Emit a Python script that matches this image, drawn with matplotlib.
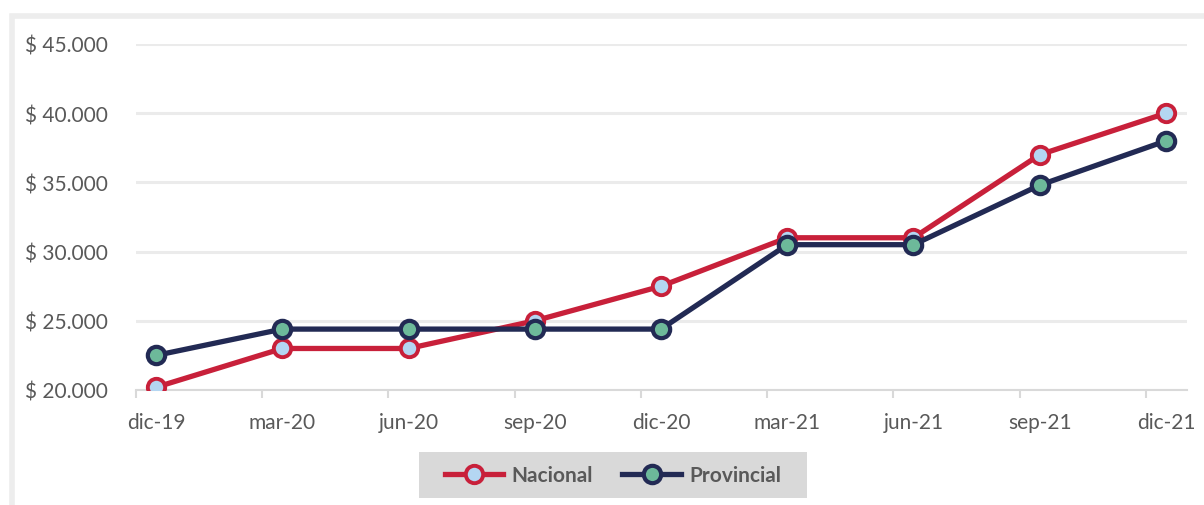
import matplotlib.pyplot as plt
from matplotlib.patches import Rectangle
from matplotlib.ticker import FuncFormatter, FixedLocator

plt.rcParams['font.family'] = ['Lato', 'DejaVu Sans']

fechas = ['dic-19', 'mar-20', 'jun-20', 'sep-20', 'dic-20',
          'mar-21', 'jun-21', 'sep-21', 'dic-21']
nacional = [20200, 23000, 23000, 25000, 27500, 31000, 31000, 37000, 40000]
provincial = [22500, 24400, 24400, 24400, 24400, 30500, 30500, 34800, 38000]

rojo = '#C8203A'
azul = '#222A54'
gris_txt = '#595959'

fig = plt.figure(figsize=(12.04, 5.06), dpi=100)

# marco gris claro alrededor del grafico
fig.patches.append(Rectangle((12 / 1204, -0.1), 1.2, 1 - 17 / 506 + 0.1,
                             transform=fig.transFigure, fill=False,
                             edgecolor='#EDEDED', linewidth=4, zorder=0))
# fondo de la leyenda
fig.patches.append(Rectangle((419 / 1204, 1 - 499 / 506), 388 / 1204, 46 / 506,
                             transform=fig.transFigure, facecolor='#D9D9D9',
                             edgecolor='none', zorder=1))

ax = fig.add_axes([136 / 1204, (506 - 391) / 506, (1187 - 136) / 1204, 346 / 506])

x = list(range(len(fechas)))
ax.plot(x, nacional, color=rojo, lw=3.8, marker='o', ms=12.5,
        mfc='#B4D6F2', mec=rojo, mew=2.8, label='Nacional', zorder=3)
ax.plot(x, provincial, color=azul, lw=3.8, marker='o', ms=12.5,
        mfc='#6DB99A', mec=azul, mew=3.0, label='Provincial', zorder=4)

ax.set_ylim(20000, 45000)
ax.set_yticks(range(20000, 45001, 5000))
ax.yaxis.set_major_formatter(FuncFormatter(lambda v, p: '$ ' + f'{int(v):,}'.replace(',', '.')))
ax.set_xlim(-20 / 126, 8 + 21 / 126)
ax.set_xticks(x)
ax.set_xticklabels(fechas)
ax.xaxis.set_minor_locator(FixedLocator([-20 / 126 + k for k in range(9)]))

ax.grid(axis='y', color='#EBEBEB', lw=2.2, zorder=0)
ax.set_axisbelow(True)
for s in ['top', 'right', 'left']:
    ax.spines[s].set_visible(False)
ax.spines['bottom'].set_color('#D9D9D9')
ax.spines['bottom'].set_linewidth(1.5)

ax.tick_params(axis='y', length=0, pad=20, labelsize=15, labelcolor=gris_txt)
ax.tick_params(axis='x', which='major', length=0, pad=16, labelsize=15, labelcolor=gris_txt)
ax.tick_params(axis='x', which='minor', length=6, width=1.5, color='#D9D9D9')

leg = fig.legend(loc='center', bbox_to_anchor=(613 / 1204, 1 - 476 / 506),
                 ncol=2, frameon=False, handlelength=2.8,
                 columnspacing=1.4, handletextpad=0.4,
                 borderaxespad=0, prop={'weight': 'bold', 'size': 15})
for t in leg.get_texts():
    t.set_color(gris_txt)

fig.savefig('out.png', dpi=100, facecolor='white')
